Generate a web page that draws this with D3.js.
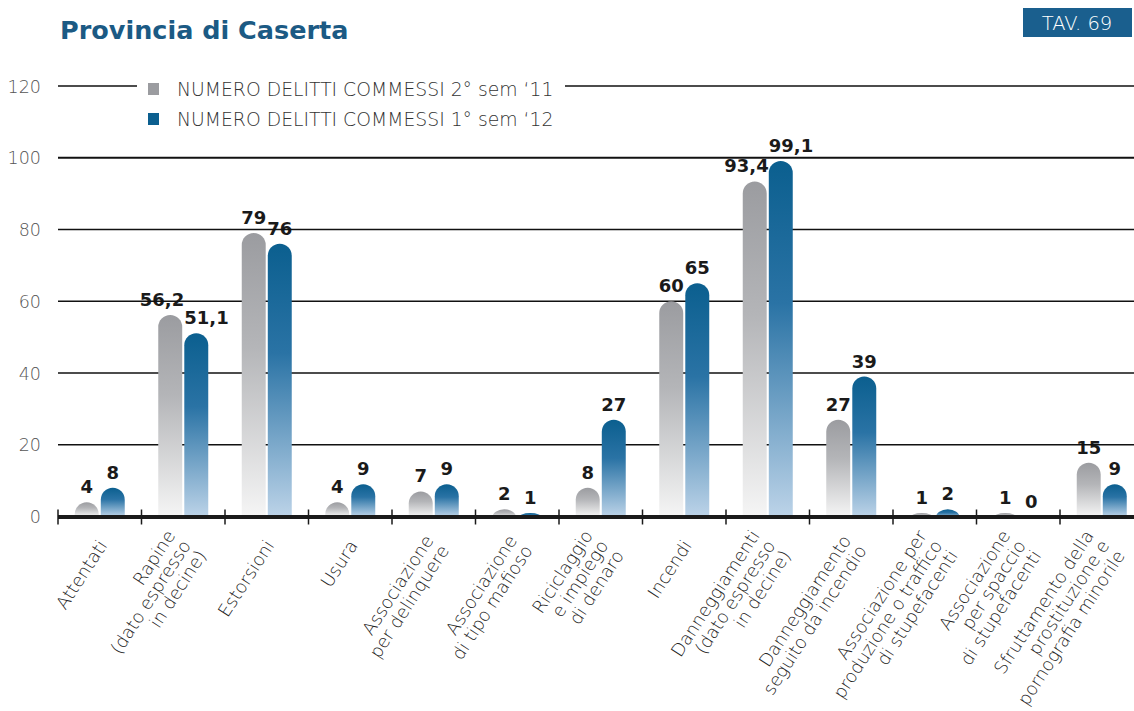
<!DOCTYPE html>
<html><head><meta charset="utf-8">
<script src="https://cdn.jsdelivr.net/npm/d3@7"></script>
<style>
html,body{margin:0;padding:0;background:#fff;}
svg{display:block;}
</style></head>
<body>
<svg id="chart" width="1134" height="711"></svg>
<script>
const categories = [
  "Attentati",
  "Rapine|(dato espresso|in decine)",
  "Estorsioni",
  "Usura",
  "Associazione|per delinquere",
  "Associazione|di tipo mafioso",
  "Riciclaggio|e impiego|di denaro",
  "Incendi",
  "Danneggiamenti|(dato espresso|in decine)",
  "Danneggiamento|seguito da incendio",
  "Associazione per|produzione o traffico|di stupefacenti",
  "Associazione|per spaccio|di stupefacenti",
  "Sfruttamento della|prostituzione e|pornografia minorile"
];
const sem2_11 = [4, 56.2, 79, 4, 7, 2, 8, 60, 93.4, 27, 1, 1, 15];
const sem1_12 = [8, 51.1, 76, 9, 9, 1, 27, 65, 99.1, 39, 2, 0, 9];
const seriesNames = ["NUMERO DELITTI COMMESSI 2° sem ‘11", "NUMERO DELITTI COMMESSI 1° sem ‘12"];
const yTicks = [0, 20, 40, 60, 80, 100, 120];
const title = "Provincia di Caserta";
const tavLabel = "TAV. 69";

const svg = d3.select("#chart");
const W = 1134;
const lightFont = "'DejaVu Sans', sans-serif";
const boldFont = "'DejaVu Sans', sans-serif";

const x = d3.scaleBand().domain(d3.range(categories.length)).range([58, 58 + 83.5 * categories.length]);
const xs = d3.scaleBand().domain([0, 1]).range([-25, 25]).paddingInner(0.08);
const y = d3.scaleLinear().domain([0, 120]).range([516.5, 86]);

const series = [sem2_11, sem1_12];
const colorsTop = ["#9b9ca0", "#0b5f8f"];
const colorsMid = ["#b4b5b8", "#2a73a5"];
const colorsBot = ["#f5f5f5", "#bcd3e8"];

const defs = svg.append("defs");
series.forEach((s, si) => {
  const g = defs.append("linearGradient").attr("id", "grad" + si)
    .attr("x1", 0).attr("y1", 0).attr("x2", 0).attr("y2", 1);
  g.append("stop").attr("offset", "0%").attr("stop-color", colorsTop[si]);
  g.append("stop").attr("offset", "40%").attr("stop-color", colorsMid[si]);
  g.append("stop").attr("offset", "100%").attr("stop-color", colorsBot[si]);
});

// Title
svg.append("text").attr("x", 60).attr("y", 39)
  .attr("font-family", boldFont).attr("font-weight", "bold").attr("font-size", 25.5)
  .attr("fill", "#1b5a84").text(title);

// TAV box
svg.append("rect").attr("x", 1023).attr("y", 8).attr("width", 109).attr("height", 29).attr("fill", "#1a5f8e");
svg.append("text").attr("x", 1077).attr("y", 30).attr("text-anchor", "middle")
  .attr("font-family", lightFont).attr("font-weight", 200).attr("font-size", 19.5)
  .attr("fill", "#fff").text(tavLabel);

// y tick labels
svg.append("g").selectAll("text").data(yTicks).join("text")
  .attr("x", 41).attr("y", d => y(d) + 6.5).attr("text-anchor", "end")
  .attr("font-family", lightFont).attr("font-weight", 200).attr("font-size", 17.5)
  .attr("fill", "#555").text(d => d);

const fmt = v => String(v).replace(".", ",");

// value labels
const labG = svg.append("g");
series.forEach((s, si) => {
  labG.selectAll(null).data(s.map((v, i) => ({v, i}))).join("text")
    .attr("x", d => {
      const x0 = x(d.i) + x.bandwidth() / 2 + xs(si);
      const wide = fmt(d.v).length > 2;
      if (wide) return si === 0 ? x0 + xs.bandwidth() + 2 : x0;
      return x0 + xs.bandwidth() / 2;
    })
    .attr("text-anchor", d => fmt(d.v).length > 2 ? (si === 0 ? "end" : "start") : "middle")
    .attr("y", d => y(d.v) - 9)
    .attr("font-family", boldFont).attr("font-weight", "bold").attr("font-size", 18)
    .attr("fill", "#1a1a1a").text(d => fmt(d.v));
});

// gridlines
svg.append("g").selectAll("line").data(yTicks.filter(d => d > 0)).join("line")
  .attr("x1", 58).attr("x2", W).attr("y1", d => y(d)).attr("y2", d => y(d))
  .attr("stroke", "#111").attr("stroke-width", d => d === 100 ? 2 : 1.4);

// bars
const barG = svg.append("g");
series.forEach((s, si) => {
  barG.selectAll(null).data(s.map((v, i) => ({v, i})).filter(d => d.v > 0)).join("path")
    .attr("fill", `url(#grad${si})`)
    .attr("d", d => {
      const x0 = x(d.i) + x.bandwidth() / 2 + xs(si);
      const w = xs.bandwidth();
      const yb = y(0), yt = y(d.v);
      const r = w / 2;
      const ry = Math.min(r, yb - yt + 1.5);
      return `M${x0},${yb} V${yt + ry} A${r},${ry} 0 0 1 ${x0 + w},${yt + ry} V${yb} Z`;
    });
});

// axis
const axG = svg.append("g");
axG.append("line").attr("x1", 58).attr("x2", W).attr("y1", y(0) + 0.5).attr("y2", y(0) + 0.5)
  .attr("stroke", "#1a1a1a").attr("stroke-width", 4);
axG.selectAll(null).data(d3.range(categories.length + 1)).join("line")
  .attr("x1", i => 58 + x.step() * i).attr("x2", i => 58 + x.step() * i)
  .attr("y1", y(0) - 7).attr("y2", y(0) + 8)
  .attr("stroke", "#1a1a1a").attr("stroke-width", 1.5);

// category labels
const lh = 18.5;
const catG = svg.append("g");
categories.forEach((c, i) => {
  const lines = c.split("|");
  const n = lines.length;
  const t = catG.append("text")
    .attr("transform", `translate(${x(i) + x.bandwidth() / 2 + 3},542) rotate(-57)`)
    .attr("text-anchor", "end")
    .attr("font-family", lightFont).attr("font-weight", 200).attr("font-size", 17.8)
    .attr("fill", "#222");
  lines.forEach((l, li) => {
    t.append("tspan").attr("x", 0).attr("y", (li - (n - 1) / 2) * lh).attr("dy", "0.35em").text(l);
  });
});

// legend
const lg = svg.append("g");
lg.append("rect").attr("x", 137).attr("y", 76).attr("width", 428).attr("height", 56).attr("fill", "#fff");
const legY = [89, 119];
seriesNames.forEach((nm, si) => {
  lg.append("rect").attr("x", 148).attr("y", legY[si] - 6).attr("width", 11).attr("height", 12)
    .attr("fill", colorsTop[si]);
  lg.append("text").attr("x", 177).attr("y", legY[si] + 6.5)
    .attr("font-family", lightFont).attr("font-weight", 200).attr("font-size", 18.8)
    .attr("fill", "#333").text(nm);
});
</script>
</body></html>
